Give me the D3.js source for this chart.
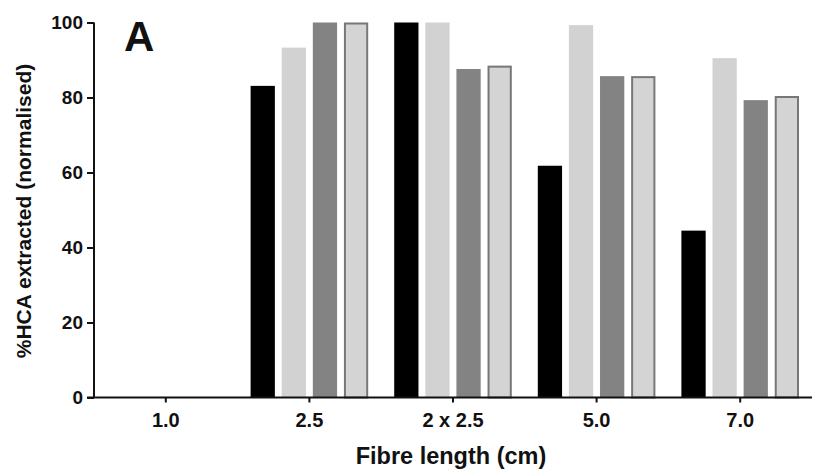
<!DOCTYPE html>
<html>
<head>
<meta charset="utf-8">
<script src="https://cdn.jsdelivr.net/npm/d3@7"></script>
<style>
html,body{margin:0;padding:0;background:#fff;}
svg{display:block;}
text{font-family:"Liberation Sans",Arial,sans-serif;font-weight:bold;fill:#111;}
</style>
</head>
<body>
<svg id="chart" width="815" height="472"></svg>
<script>
const categories = ["1.0", "2.5", "2 x 2.5", "5.0", "7.0"];
const seriesNames = ["S1", "S2", "S3", "S4"];
const s1 = [null, 83.1, 100, 61.8, 44.5];
const s2 = [null, 93.3, 100, 99.3, 90.5];
const s3 = [null, 100, 87.6, 85.7, 79.3];
const s4 = [null, 100, 88.5, 85.7, 80.4];
const yTicks = [0, 20, 40, 60, 80, 100];
const fills = ["#000000", "#d2d2d2", "#838383", "#d4d4d4"];
const strokes = ["none", "none", "none", "#777777"];

const seriesValues = [s1, s2, s3, s4];
const svg = d3.select("#chart");
const mLeft = 94, mRight = 812, mTop = 22.5, mBottom = 397.5;

const x0 = d3.scaleBand().domain(categories).range([mLeft, mRight]).padding(0);
const x1 = d3.scaleBand().domain(seriesNames).range([13, x0.bandwidth() - 13]).paddingInner(0.22).paddingOuter(0);
const y = d3.scaleLinear().domain([0, 100]).range([mBottom, mTop]);

// bars
seriesNames.forEach((s, i) => {
  const data = categories.map((c, j) => ({c, v: seriesValues[i][j]})).filter(d => d.v != null);
  const sw = strokes[i] === "none" ? 0 : 2;
  svg.append("g").selectAll("rect").data(data).join("rect")
    .attr("x", d => x0(d.c) + x1(s) + sw / 2)
    .attr("y", d => y(d.v) + sw / 2)
    .attr("width", x1.bandwidth() - sw)
    .attr("height", d => y(0) - y(d.v) - sw / 2)
    .attr("fill", fills[i])
    .attr("stroke", strokes[i])
    .attr("stroke-width", sw);
});

// y axis
const yAxis = svg.append("g").attr("transform", `translate(${mLeft},0)`)
  .call(d3.axisLeft(y).tickValues(yTicks).tickSize(7).tickPadding(4).tickFormat(d3.format("d")));
yAxis.select(".domain").attr("stroke", "#111").attr("stroke-width", 2).attr("d", `M0,${mTop}V${mBottom}`);
yAxis.selectAll(".tick line").attr("stroke", "#111").attr("stroke-width", 2);
yAxis.selectAll(".tick text").style("font-size", "19px").attr("fill", "#111");

// x axis
const xAxis = svg.append("g").attr("transform", `translate(0,${mBottom})`)
  .call(d3.axisBottom(x0).tickSize(5).tickPadding(10));
xAxis.select(".domain").attr("stroke", "#111").attr("stroke-width", 2).attr("d", `M${mLeft - 7},0H${mRight}`);
xAxis.selectAll(".tick line").attr("stroke", "#111").attr("stroke-width", 2);
xAxis.selectAll(".tick text").style("font-size", "20px").attr("fill", "#111");

// titles
svg.append("text").attr("x", 451).attr("y", 464).attr("text-anchor", "middle")
  .style("font-size", "23.5px").text("Fibre length (cm)");
svg.append("text").attr("transform", "translate(31,211) rotate(-90)").attr("text-anchor", "middle")
  .style("font-size", "21px").text("%HCA extracted (normalised)");
svg.append("text").attr("x", 124).attr("y", 51).style("font-size", "42px").text("A");
</script>
</body>
</html>
